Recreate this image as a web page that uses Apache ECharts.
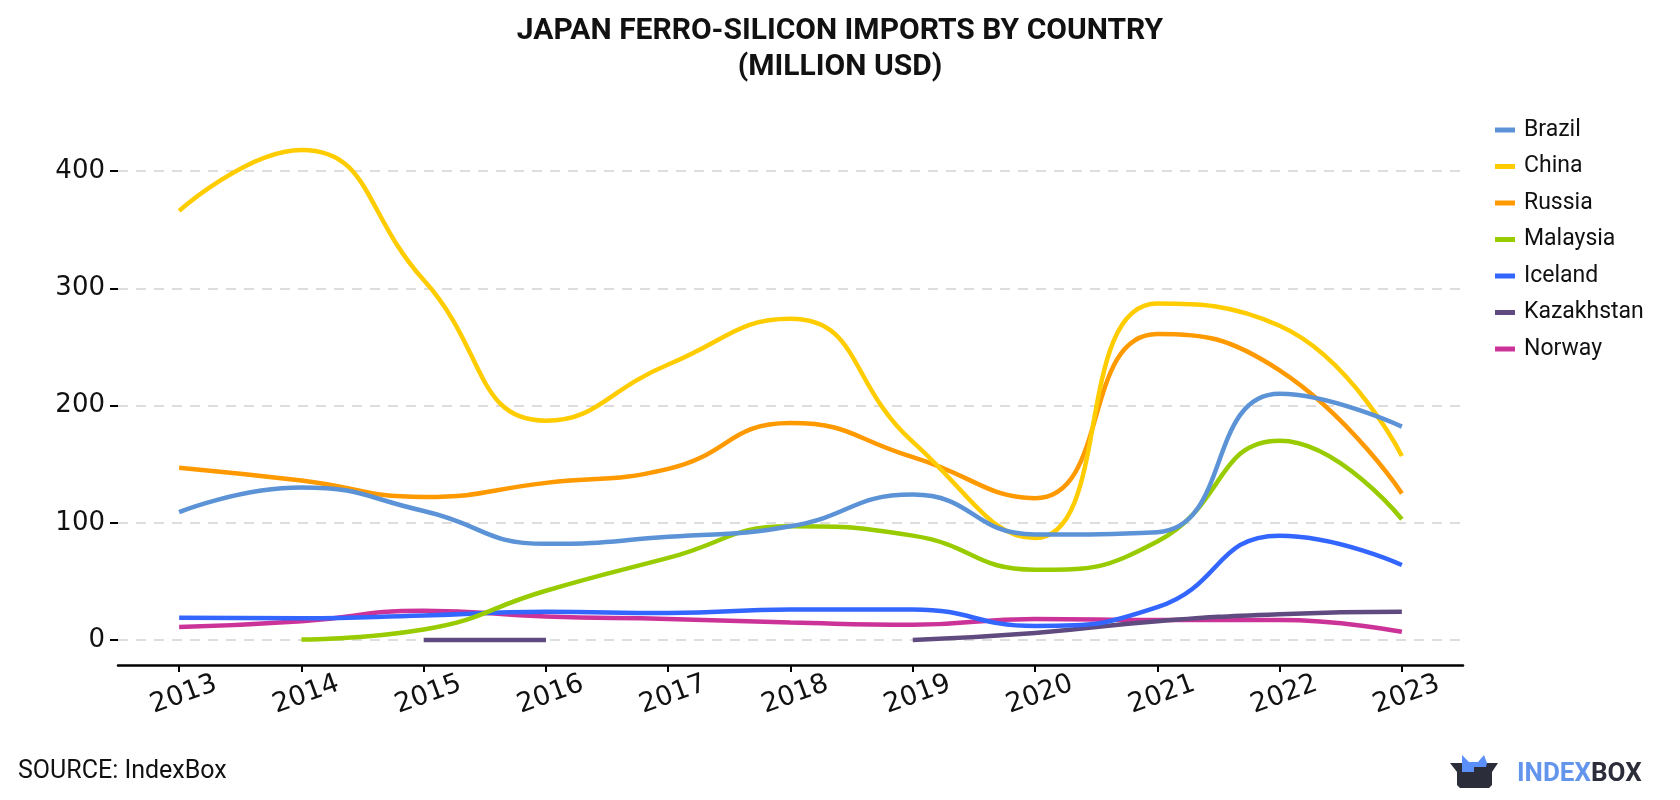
<!DOCTYPE html>
<html><head><meta charset="utf-8">
<script src="https://cdn.jsdelivr.net/npm/echarts@6/dist/echarts.min.js"></script>
<style>html,body{margin:0;padding:0;background:#fff}#c{width:1680px;height:800px}</style>
</head><body><div id="c"></div>
<script>
const years = ['2013','2014','2015','2016','2017','2018','2019','2020','2021','2022','2023'];
const yTicks = [0,100,200,300,400];
const brazil     = [109,130,110,82,88,97,124,90,92,210,182];
const china      = [366,418,307,187,235,274,169,87,287,268,157];
const russia     = [147,136,122,134,146,185,156,121,261,230,125];
const malaysia   = [null,0.5,9,42,70,97,89,60,84,170,103];
const iceland    = [19,18.5,21,24,23,26,26,12,28,89,64];
const kazakhstan = [null,null,0,0,null,null,0,6,16,22,24];
const norway     = [11,16,25,20,18,15,13,18,17,17,7];
const names  = ['Brazil','China','Russia','Malaysia','Iceland','Kazakhstan','Norway'];
const colors = ['#5b93d6','#ffcc00','#ff9900','#99cc00','#3366ff','#5f4b7f','#cc3399'];
const dataSets = [brazil,china,russia,malaysia,iceland,kazakhstan,norway];

const chart = echarts.init(document.getElementById('c'), null, {renderer:'canvas'});
const series = names.map((n,i)=>({
  name:n, type:'line', data:dataSets[i], smooth:0.5, showSymbol:false, symbol:'none',
  clip:false, connectNulls:false,
  lineStyle:{width:4.5,color:colors[i]}, itemStyle:{color:colors[i]}, z:10-i
}));
chart.setOption({
  animation:false,
  backgroundColor:'#ffffff',
  title:{
    text:'JAPAN FERRO-SILICON IMPORTS BY COUNTRY\n(MILLION USD)',
    left:'center', top:8,
    textStyle:{fontFamily:'Roboto',fontWeight:'bold',fontSize:30,lineHeight:36,color:'#111'}
  },
  legend:{
    orient:'vertical', left:1490, top:112,
    icon:'rect', itemWidth:20, itemHeight:5, itemGap:10.5,
    textStyle:{fontFamily:'Roboto',fontSize:23,lineHeight:26,color:'#111',padding:[0,0,0,4]},
    data:names
  },
  grid:{left:118,right:217,top:171,bottom:160,containLabel:false},
  xAxis:{
    type:'category', data:years, boundaryGap:true, offset:25,
    axisLine:{onZero:false,lineStyle:{color:'#000',width:2.5}},
    axisTick:{show:true,alignWithLabel:true,length:7,lineStyle:{color:'#000',width:2}},
    axisLabel:{rotate:20,align:'center',verticalAlign:'top',margin:17,fontFamily:'DejaVu Sans',fontSize:27,color:'#111'}
  },
  yAxis:{
    type:'value', min:0, max:400, interval:100,
    axisLine:{show:false},
    axisTick:{show:true,length:8,lineStyle:{color:'#000',width:2}},
    axisLabel:{margin:13,fontFamily:'DejaVu Sans',fontSize:26,color:'#111',
      formatter:v=>yTicks.includes(v)?String(v):''},
    splitLine:{show:true,lineStyle:{color:'#dddddd',width:2,type:[10,8]}}
  },
  series:series,
  graphic:[
    {type:'text',left:18,top:759,style:{text:'SOURCE: IndexBox',font:'25px Roboto',fill:'#111'}},
    {type:'polygon',shape:{points:[[1450,763],[1498,763],[1492,772],[1492,785],[1489,788],[1460,788],[1457,785],[1457,772]]},style:{fill:'#2b2d3a'}},
    {type:'polygon',shape:{points:[[1462,772],[1462,755],[1469,762],[1478,762],[1484,755],[1487,763],[1486,767],[1474,767],[1474,772]]},style:{fill:'#5b8ff9'}},
    {type:'text',left:1517,top:761,style:{text:'{a|INDEX}{b|BOX}',rich:{a:{font:'bold 26px Roboto',fill:'#6495ED',color:'#6495ED'},b:{font:'bold 26px Roboto',fill:'#2b2d3a',color:'#2b2d3a'}}}}
  ]
});
</script></body></html>
